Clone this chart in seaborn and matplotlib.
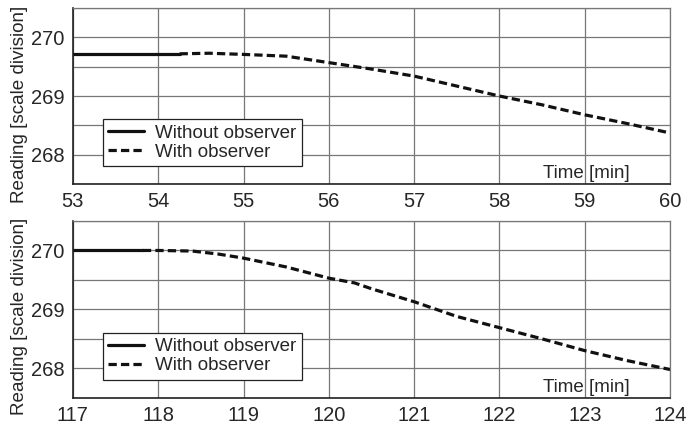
import numpy as np
import pandas as pd
import matplotlib
matplotlib.use("Agg")
import matplotlib.pyplot as plt
import seaborn as sns

# Readings
top_time_without = [53.0, 54.25]
top_read_without = [269.72, 269.72]
top_time_with = [54.25, 54.6, 55.0, 55.5, 56.0, 56.5, 57.0, 57.5, 58.0, 58.5, 59.0, 59.5, 60.0]
top_read_with = [269.72, 269.73, 269.71, 269.68, 269.57, 269.46, 269.34, 269.17, 269.00, 268.85, 268.68, 268.53, 268.37]

bot_time_without = [117.0, 117.82]
bot_read_without = [270.0, 270.0]
bot_time_with = [117.82, 118.0, 118.4, 118.7, 119.0, 119.5, 120.0, 120.3, 120.5, 121.0, 121.5,
                 122.0, 122.5, 123.0, 123.5, 124.0]
bot_read_with = [270.0, 270.0, 269.99, 269.94, 269.87, 269.72, 269.53, 269.45, 269.35, 269.13, 268.88,
                 268.69, 268.50, 268.30, 268.13, 267.98]

y_ticks = [268, 269, 270]
top_xticks = list(range(53, 61))
bot_xticks = list(range(117, 125))

sns.set_style("white")
plt.rcParams['font.family'] = ['Liberation Sans', 'DejaVu Sans']
plt.rcParams['font.size'] = 13

fig = plt.figure(figsize=(6.88, 4.25), dpi=100)
ax_top = fig.add_axes([0.106, 0.567, 0.868, 0.414])
ax_bot = fig.add_axes([0.106, 0.064, 0.868, 0.416])


def draw_panel(ax, t_wo, r_wo, t_w, r_w, xticks, label_y):
    sns.lineplot(x=t_wo, y=r_wo, ax=ax, color="#111111", lw=2.3, label="Without observer")
    sns.lineplot(x=t_w, y=r_w, ax=ax, color="#111111", lw=2.3, label="With observer")
    ax.lines[-1].set_dashes((2.6, 1.3))
    ax.set_xlim(xticks[0], xticks[-1])
    ax.set_ylim(267.5, 270.5)
    ax.set_xticks(xticks)
    ax.set_yticks(y_ticks)
    ax.set_yticks([267.5, 268.5, 269.5, 270.5], minor=True)
    ax.grid(True, which="both", color="#777777", lw=0.9)
    ax.set_axisbelow(True)
    ax.tick_params(axis="both", which="major", direction="out", length=4, width=1,
                   color="#333333", labelsize=14.5, pad=2)
    ax.tick_params(axis="y", which="minor", length=0)
    for side in ["top", "right"]:
        ax.spines[side].set_color("#777777")
        ax.spines[side].set_linewidth(0.9)
    for side in ["left", "bottom"]:
        ax.spines[side].set_color("#222222")
        ax.spines[side].set_linewidth(1.2)
    ax.set_xlabel("")
    ax.set_ylabel("Reading [scale division]", fontsize=13.6)
    ax.yaxis.set_label_coords(-0.076, label_y)
    ax.text(0.933, 0.012, "Time [min]", transform=ax.transAxes, ha="right", va="bottom",
            fontsize=13.5)
    leg = ax.legend(loc="lower left", bbox_to_anchor=(0.05, 0.10), fancybox=False,
                    framealpha=1, edgecolor="#222222", fontsize=13.5, handlelength=1.9,
                    borderpad=0.3, labelspacing=0.1, handletextpad=0.6, borderaxespad=0)
    leg.get_frame().set_linewidth(0.9)


draw_panel(ax_top, top_time_without, top_read_without, top_time_with, top_read_with,
           top_xticks, 0.45)
draw_panel(ax_bot, bot_time_without, bot_read_without, bot_time_with, bot_read_with,
           bot_xticks, 0.46)

fig.savefig("out.png", dpi=100)
